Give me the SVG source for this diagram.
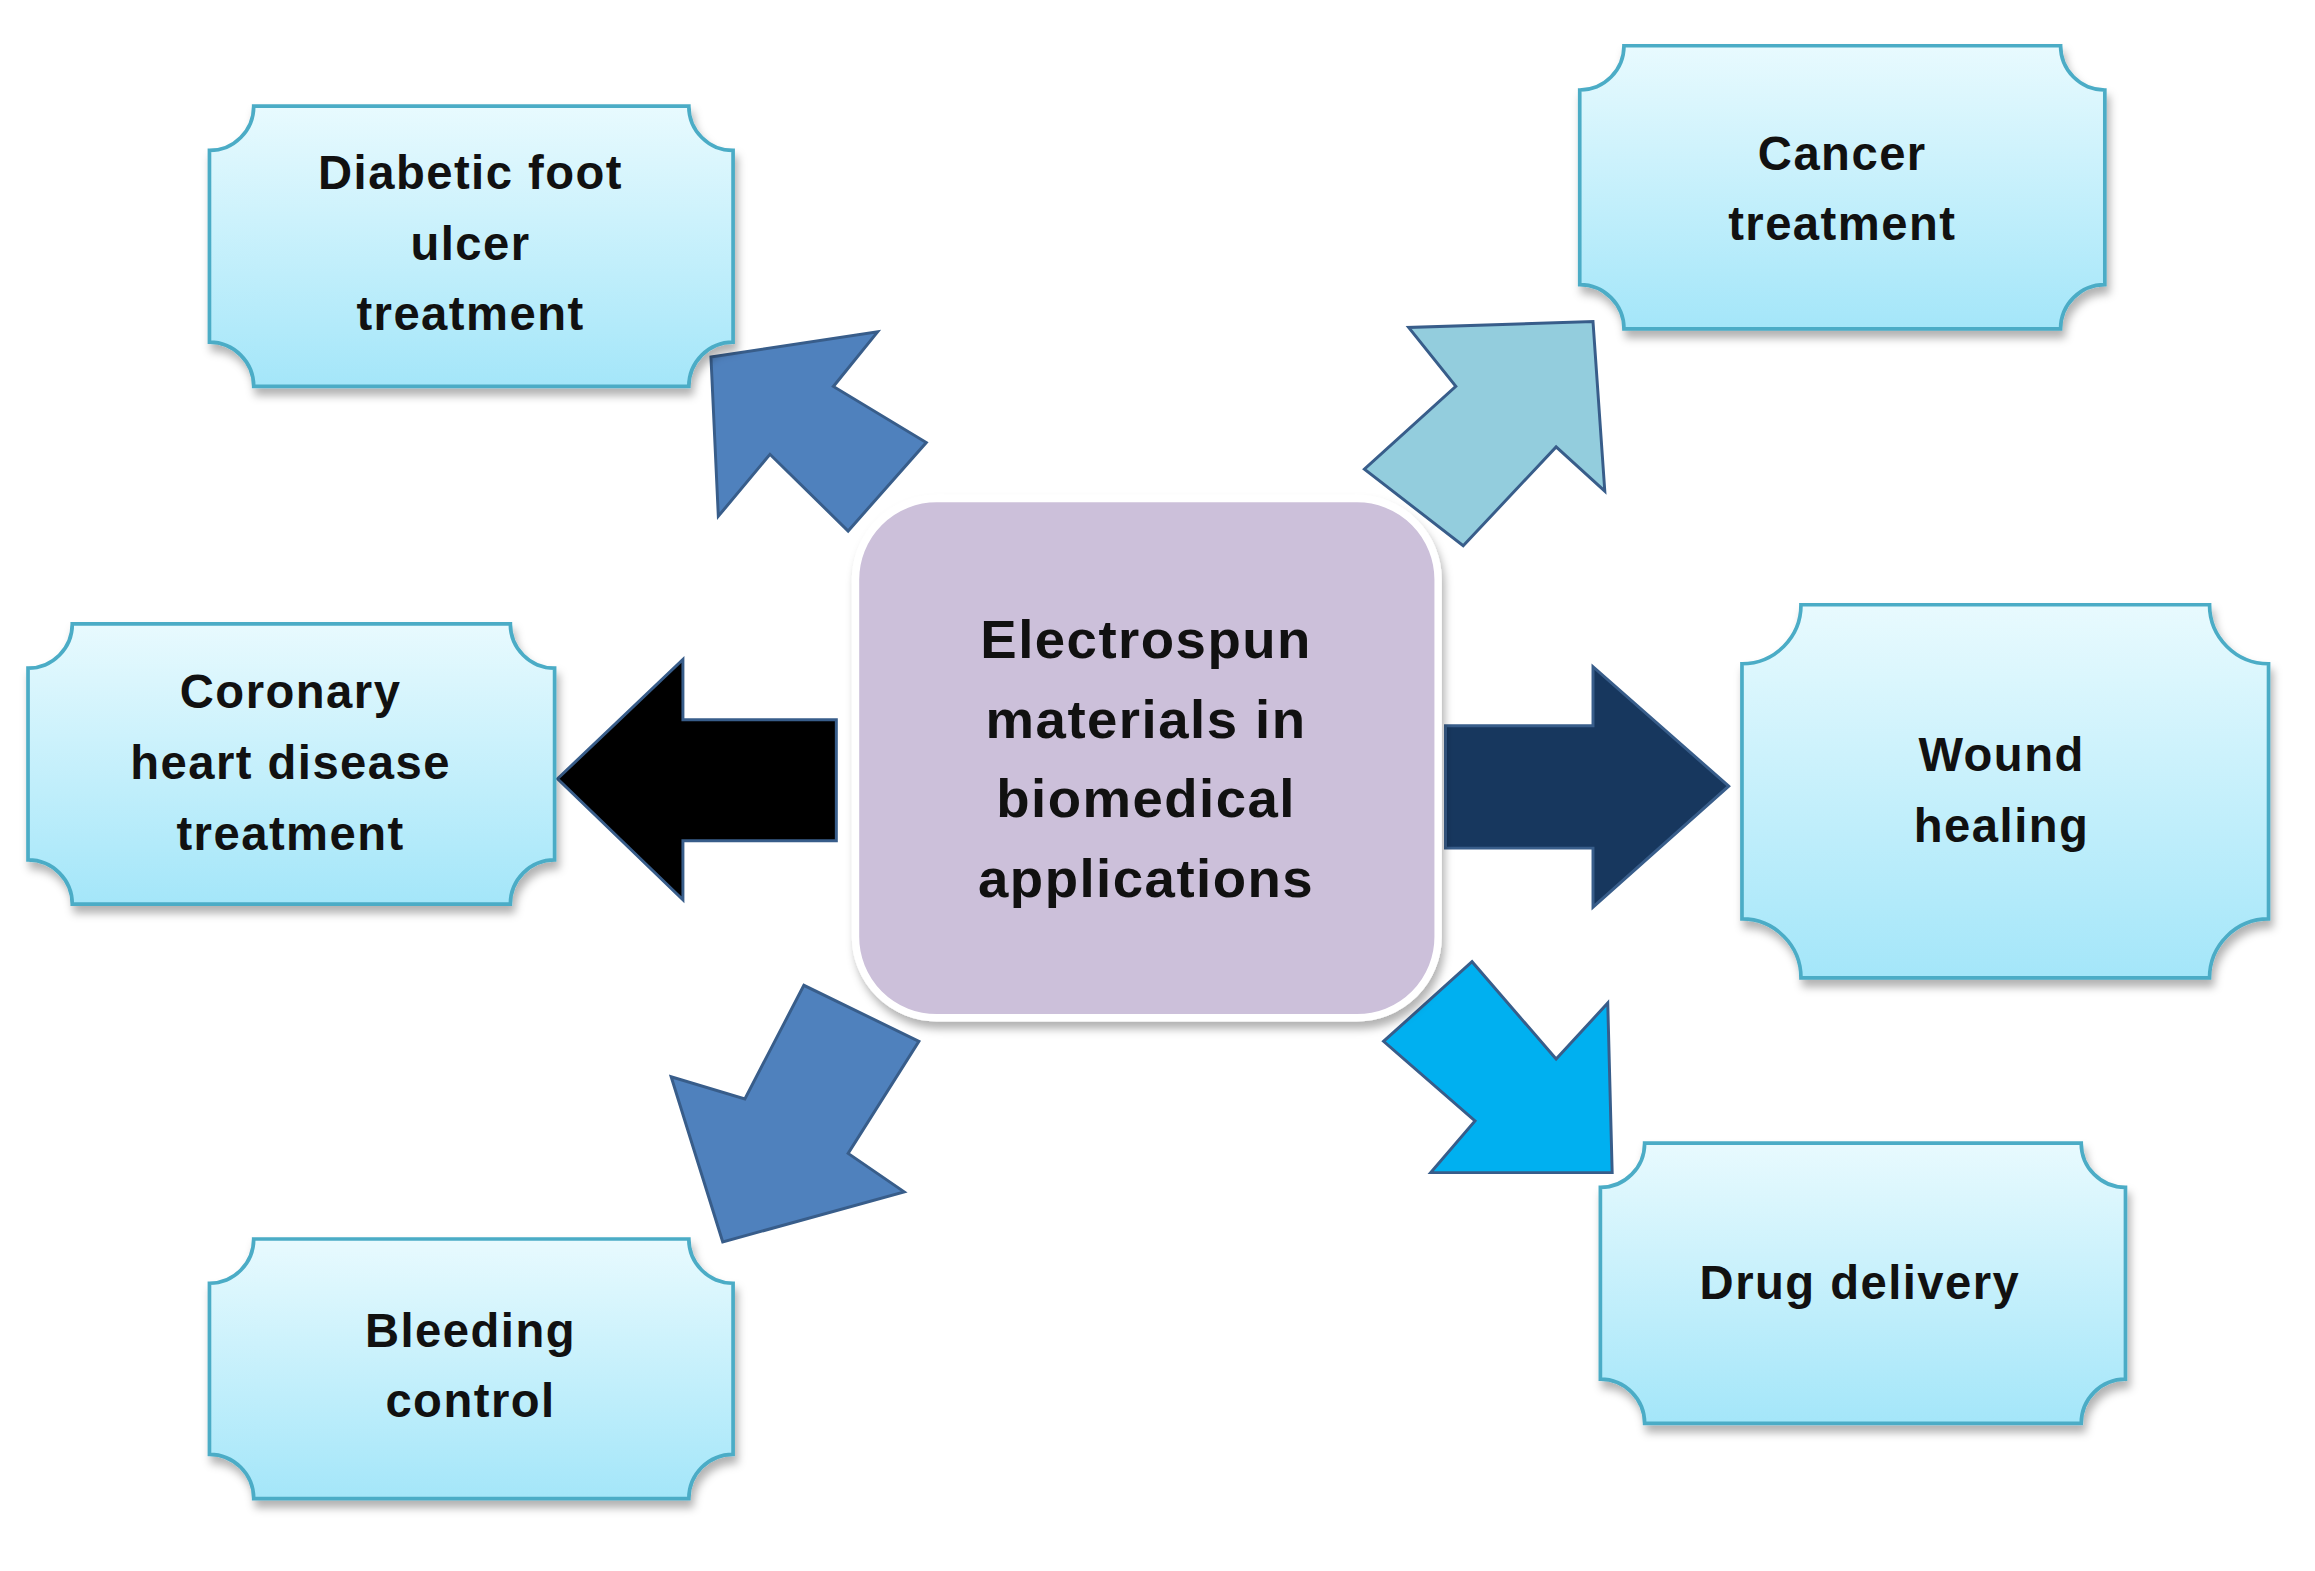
<svg xmlns="http://www.w3.org/2000/svg" width="2315" height="1571" viewBox="0 0 2315 1571">
<defs>
<linearGradient id="g" x1="0" y1="0" x2="0" y2="1"><stop offset="0" stop-color="#e8fafe"/><stop offset="1" stop-color="#a4e6f9"/></linearGradient>
<filter id="sh" x="-10%" y="-10%" width="120%" height="130%"><feDropShadow dx="2" dy="5" stdDeviation="3" flood-color="#000" flood-opacity="0.3"/></filter>
<style>
.b{fill:url(#g);stroke:#4bacc6;stroke-width:2.5;filter:url(#sh)}
.t{font-family:"Liberation Sans",Arial,sans-serif;font-weight:bold;font-size:32px;fill:#111;text-anchor:middle;letter-spacing:1px}
.c{font-size:37px}
.a{stroke:#385d8a;stroke-width:2}
</style>
</defs>
<rect width="2315" height="1571" fill="#fff"/>
<g transform="scale(1.475)">
<g id="connectors">
<polygon class="a" fill="#000" stroke="#1f3864" points="378,528 463,447 463,488 567,488 567,570 463,570 463,610"/>
<polygon class="a" fill="#17375e" points="1172,533 1080,452 1080,492 980,492 980,575 1080,575 1080,615"/>
<polygon class="a" fill="#4f81bd" points="482,242 595,225 565,262 628,300 575,360 522,308 487,350"/>
<polygon class="a" fill="#93cddd" stroke="#31859c" points="1080,218 1088,333 1055,303 992,370 925,318 987,262 955,222"/>
<polygon class="a" fill="#4f81bd" points="490,842 455,730 505,745 545,668 623,706 575,782 613,808"/>
<polygon class="a" fill="#00b0f0" stroke="#0070c0" points="1093,795 970,795 1000,760 938,706 998,652 1055,718 1090,680"/>
</g>
<g id="center">
<rect x="580" y="338" width="395" height="352" rx="55" fill="#ccc0da" stroke="#fff" stroke-width="5" filter="url(#sh)"/>
<text class="t c" x="777" y="446">Electrospun</text>
<text class="t c" x="777" y="500">materials in</text>
<text class="t c" x="777" y="554">biomedical</text>
<text class="t c" x="777" y="608">applications</text>
</g>
<g id="diabetic">
<path class="b" d="M172,72 H467 A30,30 0 0 0 497,102 V232 A30,30 0 0 0 467,262 H172 A30,30 0 0 0 142,232 V102 A30,30 0 0 0 172,72 Z"/>
<text class="t" x="319" y="128">Diabetic foot</text><text class="t" x="319" y="176">ulcer</text><text class="t" x="319" y="224">treatment</text>
</g>
<g id="cancer">
<path class="b" d="M1101,31 H1397 A30,30 0 0 0 1427,61 V193 A30,30 0 0 0 1397,223 H1101 A30,30 0 0 0 1071,193 V61 A30,30 0 0 0 1101,31 Z"/>
<text class="t" x="1249" y="115">Cancer</text><text class="t" x="1249" y="163">treatment</text>
</g>
<g id="coronary">
<path class="b" d="M49,423 H346 A30,30 0 0 0 376,453 V583 A30,30 0 0 0 346,613 H49 A30,30 0 0 0 19,583 V453 A30,30 0 0 0 49,423 Z"/>
<text class="t" x="197" y="480">Coronary</text><text class="t" x="197" y="528">heart disease</text><text class="t" x="197" y="576">treatment</text>
</g>
<g id="wound">
<path class="b" d="M1221,410 H1498 A40,40 0 0 0 1538,450 V623 A40,40 0 0 0 1498,663 H1221 A40,40 0 0 0 1181,623 V450 A40,40 0 0 0 1221,410 Z"/>
<text class="t" x="1357" y="523">Wound</text><text class="t" x="1357" y="571">healing</text>
</g>
<g id="bleeding">
<path class="b" d="M172,840 H467 A30,30 0 0 0 497,870 V986 A30,30 0 0 0 467,1016 H172 A30,30 0 0 0 142,986 V870 A30,30 0 0 0 172,840 Z"/>
<text class="t" x="319" y="913">Bleeding</text><text class="t" x="319" y="961">control</text>
</g>
<g id="drug">
<path class="b" d="M1115,775 H1411 A30,30 0 0 0 1441,805 V935 A30,30 0 0 0 1411,965 H1115 A30,30 0 0 0 1085,935 V805 A30,30 0 0 0 1115,775 Z"/>
<text class="t" x="1261" y="881">Drug delivery</text>
</g>
</g>
</svg>
